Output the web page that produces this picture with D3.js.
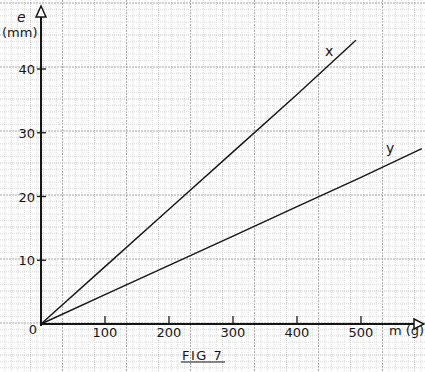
<!DOCTYPE html>
<html>
<head>
<meta charset="utf-8">
<script src="https://cdn.jsdelivr.net/npm/d3@7"></script>
<style>
  body { margin: 0; background: #fff; }
  svg { display: block; font-family: "DejaVu Sans", sans-serif; }
</style>
</head>
<body>
<svg id="chart"></svg>
<script>
// mass (g) and extension (mm)
const massX = [0, 100, 200, 300, 400, 492];
const extX = [0, 9, 18, 27, 36, 44.5];
const massY = [0, 100, 200, 300, 400, 500, 595];
const extY = [0, 4.6, 9.2, 13.8, 18.4, 23, 27.5];
const xTicks = [100, 200, 300, 400, 500];
const yTicks = [0, 10, 20, 30, 40];

const width = 425;
const height = 372;

const svg = d3.select('#chart')
  .attr('width', width)
  .attr('height', height);

const x = d3.scaleLinear().domain([0, 600]).range([41, 41 + 6 * 64]);
const y = d3.scaleLinear().domain([0, 40]).range([324, 69]);

// graph paper
const paper = svg.append('g');
const step = 6.4;
const gridColour = k => k === 0 ? '#a6a6a6' : k === 5 ? '#c4c4c4' : '#dadada';
d3.range(37 - 6 * step, width, step).forEach((px, i) => {
  const k = i % 10;
  paper.append('line')
    .attr('x1', px).attr('x2', px).attr('y1', 0).attr('y2', height)
    .attr('stroke', gridColour(k))
    .attr('stroke-dasharray', k === 0 ? '2,1' : '1,1');
});
d3.range(3, height, step).forEach((py, i) => {
  const k = i % 10;
  paper.append('line')
    .attr('y1', py).attr('y2', py).attr('x1', 0).attr('x2', width)
    .attr('stroke', gridColour(k))
    .attr('stroke-dasharray', k === 0 ? '2,1' : '1,1');
});

const ink = '#151515';
const g = svg.append('g');

// axes
g.append('line')
  .attr('x1', x(0)).attr('x2', x(0)).attr('y1', y(0) + 2).attr('y2', 9)
  .attr('stroke', ink).attr('stroke-width', 2);
g.append('line')
  .attr('x1', x(0) - 1).attr('x2', 423).attr('y1', y(0)).attr('y2', y(0))
  .attr('stroke', ink).attr('stroke-width', 2);

// open arrow heads
g.append('path')
  .attr('d', `M${x(0) - 5},17 L${x(0)},6 L${x(0) + 5},17 Z`)
  .attr('fill', '#fff').attr('stroke', ink).attr('stroke-width', 1.5);
g.append('path')
  .attr('d', `M414,${y(0) - 5} L424,${y(0)} L414,${y(0) + 5} Z`)
  .attr('fill', '#fff').attr('stroke', ink).attr('stroke-width', 1.5);

// ticks and labels
xTicks.forEach(t => {
  g.append('line')
    .attr('x1', x(t)).attr('x2', x(t)).attr('y1', y(0) - 8).attr('y2', y(0))
    .attr('stroke', ink).attr('stroke-width', 1.3);
  g.append('text')
    .attr('x', x(t)).attr('y', y(0) + 13)
    .attr('text-anchor', 'middle')
    .attr('font-size', 13).attr('fill', ink)
    .text(t);
});
yTicks.forEach(t => {
  if (t > 0) {
    g.append('line')
      .attr('x1', x(0) - 4).attr('x2', x(0) + 5).attr('y1', y(t)).attr('y2', y(t))
      .attr('stroke', ink).attr('stroke-width', 1.3);
  }
  g.append('text')
    .attr('x', t === 0 ? 37 : 35).attr('y', t === 0 ? y(0) + 10 : y(t) + 5)
    .attr('text-anchor', 'end')
    .attr('font-size', 13).attr('fill', ink)
    .text(t);
});

// the two lines
const line = d3.line().x(d => x(d[0])).y(d => y(d[1]));
g.append('path')
  .datum(d3.zip(massX, extX))
  .attr('d', line)
  .attr('fill', 'none').attr('stroke', ink).attr('stroke-width', 1.4);
g.append('path')
  .datum(d3.zip(massY, extY))
  .attr('d', line)
  .attr('fill', 'none').attr('stroke', ink).attr('stroke-width', 1.4);

// labels
g.append('text').attr('x', 325).attr('y', 56).attr('font-size', 14).attr('fill', ink).text('x');
g.append('text').attr('x', 386).attr('y', 153).attr('font-size', 14).attr('fill', ink).text('y');
g.append('text').attr('x', 17).attr('y', 22).attr('font-size', 14)
  .attr('font-style', 'italic').attr('fill', ink).text('e');
g.append('text').attr('x', 2).attr('y', 37).attr('font-size', 13).attr('fill', ink).text('(mm)');
g.append('text').attr('x', 389).attr('y', 335).attr('font-size', 13).attr('fill', ink).text('m (g)');
g.append('text').attr('x', 182).attr('y', 360).attr('font-size', 13)
  .attr('letter-spacing', 1.5).attr('fill', ink).text('FIG 7');
g.append('line')
  .attr('x1', 181).attr('x2', 225).attr('y1', 362).attr('y2', 362)
  .attr('stroke', ink).attr('stroke-width', 1.2);
</script>
</body>
</html>
